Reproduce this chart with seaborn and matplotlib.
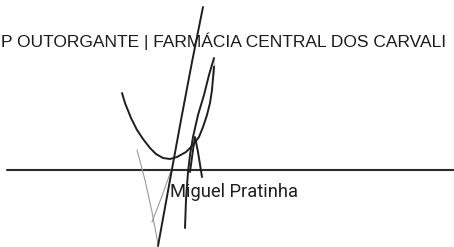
import matplotlib
matplotlib.use("Agg")
import matplotlib.pyplot as plt
import seaborn as sns

# header text (as far as it is visible in the scan) and signer name
header_text = "P OUTORGANTE | FARMÁCIA CENTRAL DOS CARVALI"
signer_name = "Miguel Pratinha"

# signature strokes, in image pixel units (x to the right, y down)
loop_x = [122, 125, 131, 137, 143, 150, 156, 163, 170, 177, 186, 193, 199, 203, 207, 210, 212, 214, 214]
loop_y = [93, 103, 118, 130, 139, 148, 154, 158, 159, 157, 152, 145, 137, 127, 115, 103, 90, 75, 58]

down_x = [214, 209, 204, 198, 193, 190, 188, 186, 185]
down_y = [58, 75, 95, 115, 137, 155, 172, 200, 228]

long_x = [203, 192, 181, 170, 158]
long_y = [7, 62, 120, 180, 246]

peak_x = [190, 193, 195, 198, 202]
peak_y = [172, 150, 137, 152, 177]

faint_x = [137, 145, 152, 158]
faint_y = [150, 180, 212, 244]

faint2_x = [172, 162, 152]
faint2_y = [168, 196, 222]

rule_x = [7, 454]
rule_y = [170, 170]

sns.set_style("white")

fig = plt.figure(figsize=(4.54, 2.47), dpi=100)
ax = fig.add_axes([0, 0, 1, 1])

# signature line
sns.lineplot(x=rule_x, y=rule_y, sort=False, color="#2b2b2b", linewidth=1.5, ax=ax)

# faint pencil-like strokes
for xs, ys in [(faint_x, faint_y), (faint2_x, faint2_y)]:
    sns.lineplot(x=xs, y=ys, sort=False, color="#9a9a9a", linewidth=0.8, ax=ax)

# ink strokes
for xs, ys in [(loop_x, loop_y), (down_x, down_y), (long_x, long_y), (peak_x, peak_y)]:
    sns.lineplot(x=xs, y=ys, sort=False, color="#1e1e1e", linewidth=1.4, ax=ax)

ax.text(1, 47, header_text, fontsize=12.5, family="Liberation Sans",
        color="#1a1a1a", ha="left", va="baseline")

ax.text(170, 197, signer_name, fontsize=13.2, family="Roboto",
        color="#1f1f1f", ha="left", va="baseline")

ax.set_xlim(0, 454)
ax.set_ylim(247, 0)
ax.axis("off")

plt.savefig("out.png", dpi=100)
plt.close()
